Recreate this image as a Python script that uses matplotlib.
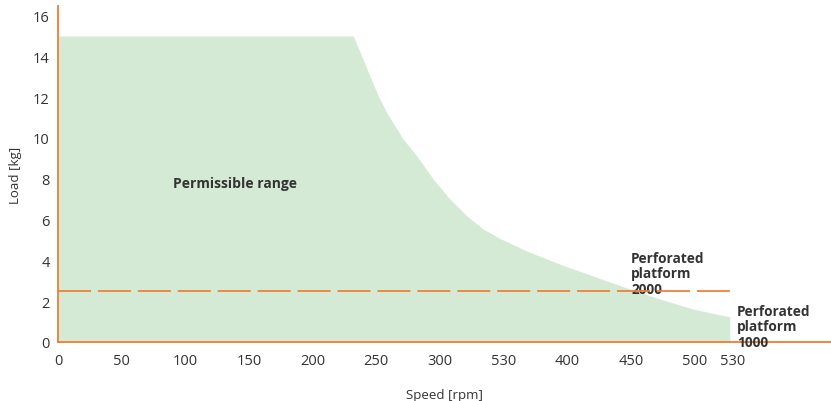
import matplotlib
matplotlib.use("Agg")
import matplotlib.pyplot as plt

# Data
speed = [0, 231.8, 238.4, 244.9, 251.4, 258.0, 264.5, 271.0, 281.6, 294.6,
         307.7, 320.8, 333.8, 346.9, 368.1, 394.0, 419.9, 446.6, 472.5, 498.4, 527.5]
load = [15.0, 15.0, 14.03, 13.05, 12.07, 11.26, 10.60, 9.95, 9.13, 7.99,
        7.01, 6.19, 5.54, 5.08, 4.46, 3.82, 3.24, 2.65, 2.11, 1.62, 1.23]
platform2000_load = 2.5
platform2000_range = [0, 527.5]
xtick_pos = [0, 50, 100, 150, 200, 250, 300, 350, 400, 450, 500, 530]
xtick_labels = ["0", "50", "100", "150", "200", "250", "300", "530", "400", "450", "500", "530"]
ytick_pos = [0, 2, 4, 6, 8, 10, 12, 14, 16]

orange = "#ef7d31"
green = "#d5ead5"
txt = "#333333"

plt.rcParams['font.family'] = ['Open Sans', 'DejaVu Sans']

fig = plt.figure(figsize=(8.31, 4.02), dpi=100)
ax = fig.add_axes([58/831, 59/402, 773/831, 336/402])

ax.fill_between(speed, load, 0, color=green, lw=0, zorder=1)

ax.set_xlim(0, 607)
ax.set_ylim(0, 16.47)
for s in ("top", "right"):
    ax.spines[s].set_visible(False)
for s in ("left", "bottom"):
    ax.spines[s].set_color(orange)
    ax.spines[s].set_linewidth(1.3)
    ax.spines[s].set_zorder(3)

ax.set_xticks(xtick_pos)
ax.set_xticklabels(xtick_labels)
ax.set_yticks(ytick_pos)
ax.tick_params(axis="both", length=0, labelsize=10.5, colors=txt)
ax.tick_params(axis="x", pad=8)
ax.tick_params(axis="y", pad=6)

ax.set_xlabel("Speed [rpm]", fontsize=9.5, color=txt, labelpad=14)
ax.set_ylabel("Load [kg]", fontsize=9.5, color=txt, labelpad=8)

ax.text(90, 7.8, "Permissible range", fontsize=10, fontweight="bold",
        color=txt, va="center", ha="left")
ax.text(450, 2.4, "Perforated\nplatform\n2000", fontsize=9.8, fontweight="bold",
        color=txt, va="baseline", ha="left", linespacing=1.15, zorder=2)
ax.text(533, -0.2, "Perforated\nplatform\n1000", fontsize=9.8, fontweight="bold",
        color=txt, va="baseline", ha="left", linespacing=1.15, zorder=4,
        clip_on=False)

ax.plot(platform2000_range, [platform2000_load]*2, color=orange, lw=1.25,
        dashes=(19, 4), zorder=3)

fig.savefig("out.png", dpi=100)
